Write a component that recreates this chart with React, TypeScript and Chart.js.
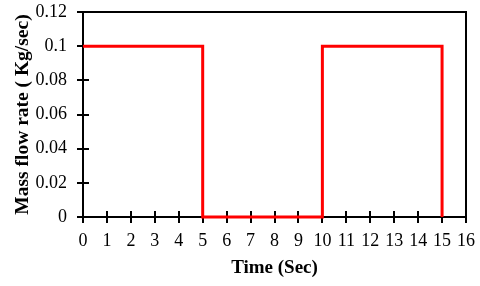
import React, { useEffect, useRef } from "react";
import { Chart, registerables } from "chart.js";

Chart.register(...registerables);

const timeValues = [0, 5, 5, 10, 10, 15, 15];
const flowValues = [0.1, 0.1, 0, 0, 0.1, 0.1, 0];
const xTitle = "Time (Sec)";
const yTitle = "Mass flow rate ( Kg/sec)";

const innerTicks = {
  id: "innerTicks",
  beforeDatasetsDraw(chart: any) {
    const { ctx, chartArea, scales } = chart;
    const x = scales.x;
    const y = scales.y;
    ctx.save();
    ctx.strokeStyle = "#000";
    ctx.lineWidth = 2;
    ctx.beginPath();
    ctx.moveTo(chartArea.left, chartArea.top);
    ctx.lineTo(chartArea.right, chartArea.top);
    ctx.lineTo(chartArea.right, chartArea.bottom);
    ctx.stroke();
    ctx.beginPath();
    x.ticks.forEach((t: any) => {
      const px = Math.round(x.getPixelForValue(t.value));
      ctx.moveTo(px, chartArea.bottom);
      ctx.lineTo(px, chartArea.bottom - 6);
    });
    y.ticks.forEach((t: any) => {
      const py = Math.round(y.getPixelForValue(t.value));
      ctx.moveTo(chartArea.left, py);
      ctx.lineTo(chartArea.left + 6, py);
    });
    ctx.stroke();
    ctx.restore();
  },
};

export default function App() {
  const ref = useRef<HTMLCanvasElement>(null);
  useEffect(() => {
    document.body.style.margin = "0";
    const chart = new Chart(ref.current!, {
      type: "scatter",
      data: {
        datasets: [
          {
            data: timeValues.map((t, i) => ({ x: t, y: flowValues[i] })),
            showLine: true,
            borderColor: "#ff0000",
            borderWidth: 3,
            pointRadius: 0,
            tension: 0,
            clip: false,
          } as any,
        ],
      },
      options: {
        responsive: false,
        animation: false,
        layout: { padding: { top: 12, right: 14, left: 0, bottom: 0 } },
        plugins: { legend: { display: false }, tooltip: { enabled: false } },
        scales: {
          x: {
            type: "linear",
            min: 0,
            max: 16,
            afterFit: (s: any) => {
              s.height = 69;
              s.paddingLeft = 0;
              s.paddingRight = 0;
            },
            ticks: {
              stepSize: 1,
              color: "#000",
              padding: 7,
              maxRotation: 0,
              autoSkip: false,
              font: { family: "Liberation Serif", size: 18 },
            },
            grid: {
              drawOnChartArea: false,
              color: "#000",
              lineWidth: 2,
              tickLength: 6,
            },
            border: { color: "#000", width: 2 },
            title: {
              display: true,
              text: xTitle,
              color: "#000",
              padding: { top: 0, bottom: 7 },
              font: { family: "Liberation Serif", size: 19, weight: "bold" },
            },
          },
          y: {
            min: 0,
            max: 0.12,
            afterFit: (s: any) => {
              s.width = 83;
              s.paddingTop = 0;
              s.paddingBottom = 0;
            },
            ticks: {
              stepSize: 0.02,
              color: "#000",
              padding: 10,
              font: { family: "Liberation Serif", size: 18 },
              callback: (v: any) => String(Math.round(Number(v) * 100) / 100),
            },
            grid: {
              drawOnChartArea: false,
              color: "#000",
              lineWidth: 2,
              tickLength: 6,
            },
            border: { color: "#000", width: 2 },
            title: {
              display: true,
              text: yTitle,
              color: "#000",
              padding: { top: 11, bottom: 0 },
              font: { family: "Liberation Serif", size: 19.5, weight: "bold" },
            },
          },
        },
      },
      plugins: [innerTicks],
    });
    return () => chart.destroy();
  }, []);
  return <canvas ref={ref} width={480} height={286} style={{ display: "block" }} />;
}
